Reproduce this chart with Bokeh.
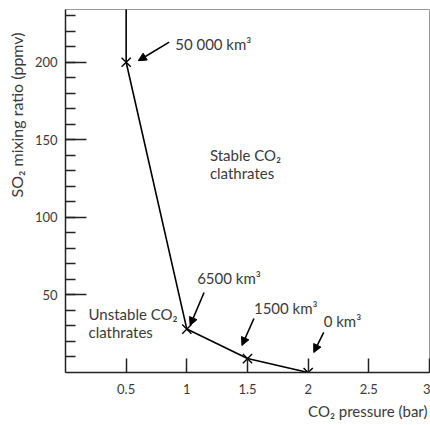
from bokeh.plotting import figure
from bokeh.models import FixedTicker, Label, Arrow, NormalHead, Range1d, NumeralTickFormatter, Title
from bokeh.embed import file_html
from bokeh.resources import INLINE

# ---- data ----
pressure = [0.5, 1.0, 1.5, 2.0]          # CO2 pressure (bar)
so2 = [200, 28, 9, 0]                    # SO2 mixing ratio (ppmv)
volumes = ["50 000 km³", "6500 km³", "1500 km³", "0 km³"]
boundary_top = 240                       # boundary continues vertically above 0.5 bar

x_ticks = [0.5, 1, 1.5, 2, 2.5, 3]
y_ticks = [50, 100, 150, 200]
y_minor = list(range(10, 240, 10))

# ---- annotation offsets (relative to points, data units) ----
head_dx = [0.10, 0.027, -0.046, 0.046]
head_dy = [1.0, 2.3, 8.4, 12.9]
tail_dx = [0.355, 0.142, 0.053, 0.128]
tail_dy = [13.0, 23.6, 25.8, 25.8]
lab_dx = [0.404, 0.085, 0.053, 0.128]
lab_dy = [12.0, 32.6, 32.9, 33.5]

FONT = "Lato"
FS = "15px"
TICK_FS = "13px"
TXT = "#3a3a3a"

p = figure(width=430, height=425, output_backend="svg", toolbar_location=None,
           x_range=Range1d(0, 3), y_range=Range1d(0, 234),
           min_border_left=65, min_border_right=1, min_border_top=9, min_border_bottom=53)
p.grid.visible = False
p.outline_line_color = "#999999"
p.outline_line_width = 1

# axes
xa = p.xaxis[0]
xa.ticker = FixedTicker(ticks=x_ticks)
xa.formatter = NumeralTickFormatter(format="0.[0]")
xa.major_tick_in = 14
xa.major_tick_out = 0
xa.minor_tick_in = 0
xa.minor_tick_out = 0
ya = p.yaxis[0]
ya.ticker = FixedTicker(ticks=y_ticks, minor_ticks=y_minor)
ya.major_tick_in = 21
ya.major_tick_out = 0
ya.minor_tick_in = 10
ya.minor_tick_out = 0
for ax in (xa, ya):
    ax.axis_line_color = "#222222"
    ax.axis_line_width = 1.5
    ax.major_tick_line_color = "#222222"
    ax.major_tick_line_width = 1.5
    ax.minor_tick_line_color = "#222222"
    ax.minor_tick_line_width = 1.5
    ax.major_label_text_font = FONT
    ax.major_label_text_font_size = TICK_FS
    ax.major_label_text_color = TXT
xa.major_label_standoff = 11
ya.major_label_standoff = 8

# boundary line
p.line([pressure[0]] + pressure, [boundary_top] + so2, line_color="black", line_width=1.6)
p.scatter(pressure, so2, marker="x", size=13, line_color="black", line_width=1.4)

# arrows + volume labels
for i in range(len(pressure)):
    x0, y0 = pressure[i], so2[i]
    p.add_layout(Arrow(end=NormalHead(size=8, fill_color="black", line_color="black"),
                       x_start=x0 + tail_dx[i], y_start=y0 + tail_dy[i],
                       x_end=x0 + head_dx[i], y_end=y0 + head_dy[i],
                       line_color="black", line_width=1.6))
    p.add_layout(Label(x=x0 + lab_dx[i], y=y0 + lab_dy[i], text=volumes[i],
                       text_font=FONT, text_font_size=FS, text_color=TXT,
                       text_align="left", text_baseline="middle"))

# region labels
for txt, x, y in [("Stable CO₂", 1.19, 140), ("clathrates", 1.19, 128.4),
                  ("Unstable CO₂", 0.19, 38), ("clathrates", 0.19, 25.8)]:
    p.add_layout(Label(x=x, y=y, text=txt, text_font=FONT, text_font_size=FS,
                       text_color=TXT, text_align="left", text_baseline="middle"))

# axis titles
p.add_layout(Title(text="SO₂ mixing ratio (ppmv)", align="right", offset=23,
                   vertical_align="middle",
                   text_font=FONT, text_font_size="16px", text_color=TXT,
                   text_font_style="normal", standoff=10), "left")
p.add_layout(Title(text="CO₂ pressure (bar)", align="right", offset=2,
                   vertical_align="bottom",
                   text_font=FONT, text_font_size=FS, text_color=TXT,
                   text_font_style="normal", standoff=6), "below")

open("out.html", "w").write(file_html(p, INLINE))
